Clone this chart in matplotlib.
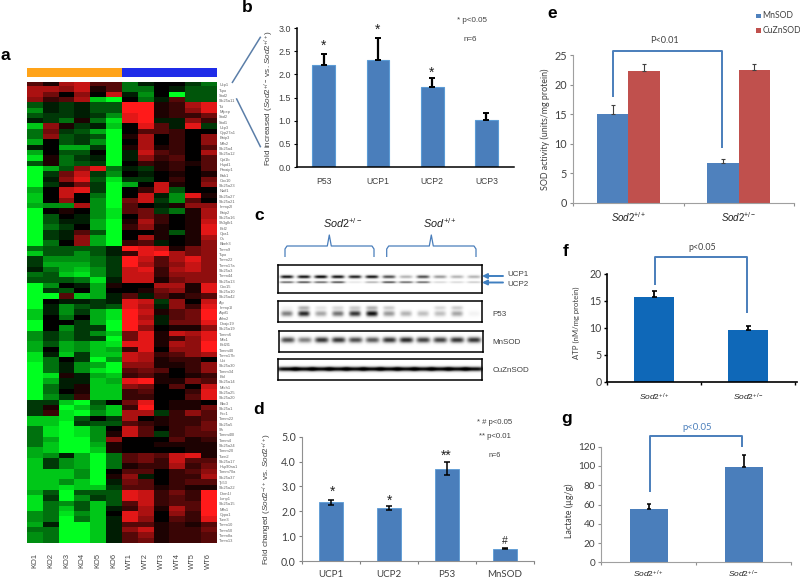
import numpy as np
import matplotlib
matplotlib.use("Agg")
import matplotlib.pyplot as plt
from matplotlib.colors import LinearSegmentedColormap
from matplotlib.patches import Rectangle

plt.rcParams['font.family'] = ['Liberation Sans', 'DejaVu Sans']
plt.rcParams['mathtext.fontset'] = 'custom'
plt.rcParams['mathtext.rm'] = 'Liberation Sans'
plt.rcParams['mathtext.it'] = 'Liberation Sans:italic'
plt.rcParams['mathtext.bf'] = 'Liberation Sans:bold'

# ---------- data ----------
heat_columns = ['KO1','KO2','KO3','KO4','KO5','KO6','WT1','WT2','WT3','WT4','WT5','WT6']
gene_labels = ['Ucp1','Tspo','Sod2','Slc25a11','Tst','Mipep','Sod2','Sod1','Ucp3','Cyp27a1','Bnip3','Mfn2',
 'Slc25a4','Slc25a12','Cpt1b','Hspd1','Pmaip1','Bak1','Cox10','Slc25a23','Naif1','Slc25a27','Slc25a21',
 'Immp2l','Bnip2','Slc25a16','Sh3glb1','Bcl2','Opa1','Cs','Bbeh3','Timm9','Tspo','Timm22','Timm17a',
 'Slc25a3','Timm44','Slc25a13','Cox15','Slc25a10','Slc25a42','Aip','Immp1l','Atpif1','Aifm2','Dnajc19',
 'Slc25a19','Tomm6','Mtx1','Bcl2l1','Tomm40','Timm17b','Uxt','Slc25a30','Tomm34','Bid','Slc25a14','Mtch1',
 'Slc25a25','Slc25a20','Bbc3','Slc25a1','Fxc1','Tomm22','Slc25a5','Sh','Tomm40l','Tomm4','Slc25a24',
 'Tomm20','Tsen2','Slc25a17','Hsp90aa1','Tomm70a','Slc25a37','Tp53','Slc25a22','Dnm1l','Lonp1','Slc25a15',
 'Mfn1','Cypa1','Tsen3','Timm10','Timm50','Timm8a','Timm13']
heat_values = [
 [3,1,6,7,3,3,-4,-1,0,0,-2,-4],[6,6,5,7,1,3,-4,-4,0,-1,-3,-3],[6,4,0,5,0,7,-1,-5,0,-9,-3,-3],
 [5,2,3,6,-7,-9,0,-4,-1,3,-3,-3],[-3,-1,-2,-1,-3,-3,9,9,1,2,6,8],[-5,-1,-2,-1,-3,-3,9,9,1,2,5,8],
 [-3,-2,-2,-1,-2,-5,8,9,1,2,2,4],[-1,-2,-4,1,-4,-8,8,9,-1,-1,5,2],[-7,5,1,-2,-1,-7,0,8,3,-1,8,-2],
 [-4,4,-2,-3,-6,-9,0,3,3,2,0,0],[-4,5,-3,-2,-3,-9,1,6,0,2,0,5],[-6,0,-3,-2,-5,-9,0,6,0,2,0,5],
 [-1,0,-6,-6,-2,-9,1,6,1,2,0,3],[-6,0,-3,-3,0,-9,-1,7,3,2,0,6],[-8,1,-4,-2,-1,-9,-1,5,2,3,0,3],
 [-3,1,-4,-3,-2,-9,0,2,1,2,1,3],[-9,-6,-3,5,8,-4,-1,-2,1,2,0,3],[-9,-2,4,7,-2,-5,0,-1,0,1,0,1],
 [-9,-1,5,8,-3,-8,-2,-2,0,2,0,4],[-9,-2,1,4,-2,-9,-6,0,7,1,0,5],[-6,0,7,8,-2,-9,0,2,7,-3,0,0],
 [-7,0,7,0,-4,-9,0,7,-1,-5,8,1],[-7,0,5,0,-5,-9,4,7,-2,-5,3,0],[-6,-5,-5,6,-5,-9,3,0,-1,1,5,5],
 [-9,0,1,0,-5,-8,3,4,-2,-4,1,6],[-9,-3,0,-1,-5,-8,0,4,2,0,1,6],[-9,-3,-1,-1,-6,-9,1,6,2,0,1,7],
 [-9,-4,-2,0,-6,-9,2,5,1,0,1,8],[-9,-2,-1,3,-3,-9,0,0,1,-3,1,8],[-9,-2,-1,5,-6,-9,0,6,1,0,1,6],
 [-9,-4,0,5,-6,-9,2,3,-1,0,1,5],[-4,-3,-3,-3,-3,-1,9,8,7,1,4,5],[-7,-3,-3,-5,-3,-1,2,8,9,6,4,5],
 [-2,-5,-5,-5,-4,-2,9,7,3,6,8,5],[-2,-6,-6,-6,-4,-2,9,6,3,5,7,5],[-1,-4,-6,-7,-5,-2,7,8,2,6,7,5],
 [-4,-3,-7,-8,-5,-2,7,7,2,5,5,5],[-3,-3,-3,-4,-8,-1,7,7,1,4,5,5],[-9,-5,0,-1,-6,1,0,0,6,6,1,8],
 [-9,-2,-3,0,-6,0,0,1,4,5,1,8],[-9,-9,3,-7,-6,-1,3,-1,3,1,2,3],[-9,0,-1,-1,-2,-1,8,7,-2,5,0,7],
 [-9,-1,-5,-3,-2,-3,8,6,-1,5,2,8],[-7,-1,-5,-2,-6,-8,9,7,1,3,4,9],[-7,0,-4,0,-6,-8,9,6,-1,3,4,9],
 [-9,0,0,-2,-6,-9,9,7,-1,4,4,8],[-9,0,-5,-2,-2,-9,9,5,0,1,1,5],[-5,-2,-4,-2,-5,-7,4,8,1,7,6,8],
 [-5,-2,-4,-2,-2,-9,4,8,1,2,5,8],[-6,-3,-6,-5,-7,-8,8,8,1,6,5,9],[-6,0,-6,-5,-7,-6,2,8,0,5,5,9],
 [-8,-1,-7,-2,-7,-7,7,6,2,3,5,6],[-8,-4,0,-2,-9,-5,7,6,1,2,2,0],[-9,-4,-1,-5,-6,-9,5,5,1,1,2,5],
 [-9,-4,-1,-5,-8,-9,3,4,3,0,2,5],[-9,-8,1,-1,-6,-7,2,3,1,0,1,2],[-9,-6,-1,-1,-7,-6,8,9,1,1,4,3],
 [-9,-4,-1,1,-7,-7,5,4,0,3,0,7],[-9,-4,0,1,-7,-7,2,3,0,0,2,8],[-9,-5,-2,2,-7,-7,2,2,0,0,3,8],
 [-2,-2,-7,-9,-3,0,4,8,0,1,1,0],[-2,1,-9,-7,-4,-7,2,9,0,1,1,4],[-2,2,-8,-9,-5,-7,6,6,-2,2,5,3],
 [-7,-7,-8,-3,0,-2,6,0,1,2,2,3],[-7,-7,-9,-2,-3,-3,3,2,1,2,2,4],[-4,-8,-9,-8,-5,0,7,3,0,2,3,4],
 [-4,-8,-9,-8,-5,1,7,3,-2,2,3,3],[-4,-6,-9,-9,-5,5,0,0,0,3,1,2],[-4,-7,-9,-9,-6,1,0,0,1,1,1,1],
 [-6,-7,-9,-9,-7,1,0,0,0,0,1,1],[-6,-5,-1,-6,-9,-4,3,4,3,7,8,1],[-7,-2,-5,-6,-9,-4,3,4,2,7,3,3],
 [-7,-2,-5,-6,-9,-4,1,2,2,6,2,4],[-7,-7,-7,-5,-9,0,3,3,0,2,3,5],[-7,-7,-7,-5,-9,1,5,-1,0,2,2,6],
 [-7,-7,-5,-7,-9,-1,4,3,0,2,3,3],[-7,-7,-8,-7,-7,-2,3,3,1,2,1,1],[-6,-3,-9,-3,-3,-3,8,7,2,4,2,9],
 [-8,-2,-9,-5,-2,-3,8,7,2,3,2,9],[-8,-4,-5,-3,-7,-3,3,7,2,3,3,9],[-8,-4,-7,-3,-7,-1,2,6,1,6,3,9],
 [-5,-4,-8,-5,-7,0,8,6,0,5,2,9],[-5,-4,-9,-4,-7,-1,8,5,0,3,2,8],[-6,-1,-9,-9,-7,-1,3,3,1,2,1,3],
 [-4,-4,-9,-9,-7,-1,5,7,1,2,2,4],[-5,-4,-9,-9,-7,-1,3,5,1,2,2,3],[-5,-4,-9,-9,-7,-1,3,4,1,2,2,3],
]

b_labels = ['P53','UCP1','UCP2','UCP3']
b_values = [2.2,2.31,1.73,1.02]
b_err = [0.24,0.47,0.2,0.14]

d_labels = ['UCP1','UCP2','P53','MnSOD']
d_values = [2.37,2.13,3.72,0.5]
d_err = [0.1,0.08,0.28,0.02]

e_groups = [r'$\mathit{Sod2}^{+/+}$', r'$\mathit{Sod2}^{+/-}$']
e_mn = [15.0,6.8]
e_mn_err = [1.6,0.6]
e_cu = [22.3,22.5]
e_cu_err = [1.1,1.0]

f_values = [15.7,9.6]
f_err = [1.1,0.8]
g_values = [55,99]
g_err = [5.5,12]

blot_ucp1 = [.95,.95,1,.95,.9,.95,.7,.3,.7,.4,.3,.3]
blot_ucp2 = [.6,.7,.6,.7,.1,.3,.7,.6,.6,.15,.15,.2]
blot_p53 = [.5,.85,.35,.55,.8,.95,.4,.3,.25,.25,.35,.05]
blot_p53_upper = [.05,.3,.1,.15,.2,.3,.2,0,0,.15,.2,0]
blot_mnsod = [.7,.5,.8,.8,.7,.65,.8,.85,.75,.75,.8,.8]
blot_cuznsod = [1,1,1,1,1,1,1,1,1,1,1,1]

# ---------- layout helpers ----------
W, H = 800, 579
fig = plt.figure(figsize=(8, 5.79), dpi=100, facecolor='white')

def axpx(l, t, r, b):
    return fig.add_axes([l/W, 1-b/H, (r-l)/W, (b-t)/H])

TXT = '#404040'
BAR = '#4a7ebb'
LINE = '#4a7ebb'

# ---------- a: heatmap ----------
cmap = LinearSegmentedColormap.from_list('gbr', ['#00ff20', '#000000', '#ff1a1a'])
ax = axpx(27, 82.3, 216.5, 543.5)
ax.imshow(np.array(heat_values), cmap=cmap, vmin=-9, vmax=9, aspect='auto', interpolation='nearest')
ax.set_xticks(range(12))
ax.set_xticklabels(heat_columns, rotation=90, fontsize=5.4, color='#444444', family=['Liberation Sans'])
ax.set_yticks(range(len(gene_labels)))
ax.set_yticklabels(gene_labels, fontsize=2.9, color='#666666')
ax.yaxis.tick_right()
ax.tick_params(length=0, pad=2)
ax.tick_params(axis='x', pad=7)
for s in ax.spines.values():
    s.set_visible(False)

ax = axpx(27, 67.7, 216.5, 77)
ax.imshow(np.array([[0]*6+[1]*6]), cmap=LinearSegmentedColormap.from_list('oc', ['#ffa319', '#1f2ce8']),
          aspect='auto', interpolation='nearest')
ax.axis('off')

# ---------- b ----------
ax = axpx(296.7, 28, 513.5, 167)
x = np.arange(4)
ax.bar(x, b_values, width=0.42, color=BAR, edgecolor='#5b9bd5', linewidth=0.8)
ax.errorbar(x, b_values, yerr=[[0]*4, b_err], fmt='none', ecolor='black', elinewidth=1.6, capsize=2.2, capthick=1.4)
ax.set_xlim(-0.5, 3.5)
ax.set_ylim(0, 3)
ax.set_xticks(x)
ax.set_xticklabels(b_labels, fontsize=6.2, color=TXT)
ax.set_yticks(np.arange(0, 3.01, 0.5))
ax.set_yticklabels([f'{v:.1f}' for v in np.arange(0, 3.01, 0.5)], fontsize=6.4, color=TXT)
ax.tick_params(axis='x', length=0, pad=7)
ax.tick_params(axis='y', length=2, width=0.8, pad=2)
for s in ['top', 'right']:
    ax.spines[s].set_visible(False)
for s in ['left', 'bottom']:
    ax.spines[s].set_linewidth(1.1)
ax.set_ylabel(r'Fold increased ($\mathit{Sod2}^{+/-}$ vs. $\mathit{Sod2}^{+/+}$)', fontsize=5.9, color=TXT, labelpad=2)

# ---------- c: western blots ----------
def blot(box, bands):
    l, t, r, b = box
    a = axpx(l, t, r, b)
    nx, ny = 240, 50
    xs = np.linspace(0, 12, nx)
    ys = np.linspace(0, 1, ny)
    X, Y = np.meshgrid(xs, ys)
    img = np.ones_like(X)
    for vals, yc, sy, sx in bands:
        for i, v in enumerate(vals):
            g = np.exp(-((X-(i+0.5))/sx)**4) * np.exp(-((Y-yc)/sy)**2)
            img = img - v*g
    a.imshow(np.clip(img, 0, 1), cmap='gray', vmin=0, vmax=1, aspect='auto', extent=(0, 12, 1, 0), interpolation='bilinear')
    a.set_xticks([]); a.set_yticks([])
    for s in a.spines.values():
        s.set_linewidth(1.1)
    return a

blot((278.3, 264.7, 482.3, 293.3), [(blot_ucp1, .44, .055, .38), (blot_ucp2, .63, .035, .42)])
blot((278.3, 300.7, 482.3, 322.3), [(blot_p53, .62, .13, .34), (blot_p53_upper, .35, .09, .34)])
blot((279.3, 330.7, 483, 352.3), [(blot_mnsod, .45, .13, .4)])
blot((278.3, 358.7, 482.3, 380), [(blot_cuznsod, .5, .1, .62)])

# ---------- d ----------
ax = axpx(302, 436.7, 534, 561)
x = np.arange(4)
ax.bar(x, d_values, width=0.4, color=BAR, edgecolor='#5b9bd5', linewidth=0.6)
ax.errorbar(x, d_values, yerr=d_err, fmt='none', ecolor='black', elinewidth=1.1, capsize=2.2, capthick=1.1)
ax.set_xlim(-0.5, 3.5)
ax.set_ylim(0, 5)
ax.set_xticks(np.arange(-0.5, 3.6, 1))
ax.set_xticklabels([])
for xi, lab in zip(x, d_labels):
    ax.annotate(lab, (xi, 0), xytext=(0, -10), textcoords='offset points', ha='center', va='center',
                fontsize=7, color=TXT, family=['Lato'], annotation_clip=False)
ax.set_yticks(range(6))
ax.set_yticklabels([f'{v:.1f}' for v in range(6)], fontsize=7.6, color=TXT, family=['Lato'])
ax.tick_params(axis='x', length=2.5, width=0.8, color='#808080', direction='out')
ax.tick_params(axis='y', length=2.5, width=0.8, color='#808080', pad=2)
for s in ['top', 'right']:
    ax.spines[s].set_visible(False)
for s in ['left', 'bottom']:
    ax.spines[s].set_color('#909090')
ax.set_ylabel(r'Fold changed ($\mathit{Sod2}^{-/+}$ vs. $\mathit{Sod2}^{+/+}$)', fontsize=5.9, color=TXT, labelpad=5)

# ---------- e ----------
ax = axpx(573.3, 55, 794, 202.7)
x = np.arange(2)
w = 0.284
ax.bar(x-w/2, e_mn, width=w, color='#4f81bd')
ax.bar(x+w/2, e_cu, width=w, color='#c0504d')
ax.errorbar(x-w/2, e_mn, yerr=[[0, 0], e_mn_err], fmt='none', ecolor='#404040', elinewidth=0.8, capsize=1.5, capthick=0.8)
ax.errorbar(x+w/2, e_cu, yerr=[[0, 0], e_cu_err], fmt='none', ecolor='#404040', elinewidth=0.8, capsize=1.5, capthick=0.8)
ax.set_xlim(-0.5, 1.5)
ax.set_ylim(0, 25)
ax.set_xticks([-0.5, 0.5, 1.5])
ax.set_xticklabels([])
for xi, lab in zip(x, e_groups):
    ax.annotate(lab, (xi, 0), xytext=(0, -10.5), textcoords='offset points', ha='center', va='center',
                fontsize=7, color='#222222', annotation_clip=False)
ax.set_yticks(range(0, 26, 5))
ax.set_yticklabels(range(0, 26, 5), fontsize=7.8, color=TXT, family=['Lato'])
ax.tick_params(length=2.5, width=0.8, color='#909090', pad=2)
for s in ['top', 'right']:
    ax.spines[s].set_visible(False)
for s in ['left', 'bottom']:
    ax.spines[s].set_color('#a0a0a0')
ax.set_ylabel('SOD activity (units/mg protein)', fontsize=6.4, color=TXT, labelpad=3, family=['Lato'])

# ---------- f ----------
ax = axpx(607.3, 274, 796.7, 381.7)
ax.bar(x, f_values, width=0.42, color='#0f68b8')
ax.errorbar(x, f_values, yerr=[[0, 0], f_err], fmt='none', ecolor='black', elinewidth=1.3, capsize=1.8, capthick=1.2)
ax.set_xlim(-0.5, 1.52)
ax.set_ylim(0, 20)
ax.set_xticks([-0.5, 0.5, 1.5])
ax.set_xticklabels([])
for xi, lab in zip(x, e_groups):
    ax.annotate(lab, (xi, 0), xytext=(0, -11.5), textcoords='offset points', ha='center', va='center',
                fontsize=6, color='#222222', annotation_clip=False)
ax.set_yticks(range(0, 21, 5))
ax.set_yticklabels(range(0, 21, 5), fontsize=7.6, color=TXT, family=['Lato'])
ax.tick_params(length=2, width=1, color='black', pad=2)
for s in ['top', 'right']:
    ax.spines[s].set_visible(False)
for s in ['left', 'bottom']:
    ax.spines[s].set_linewidth(1.2)
ax.set_ylabel('ATP (nM/mg protein)', fontsize=5.6, color=TXT, labelpad=7, family=['Lato'], y=0.55)

# ---------- g ----------
ax = axpx(601, 446.7, 791, 562.3)
ax.bar(x, g_values, width=0.4, color=BAR)
ax.errorbar(x, g_values, yerr=[[0, 0], g_err], fmt='none', ecolor='black', elinewidth=1.2, capsize=1.5, capthick=1.1)
ax.set_xlim(-0.5, 1.5)
ax.set_ylim(0, 120)
ax.set_xticks([-0.5, 0.5, 1.5])
ax.set_xticklabels([])
for xi, lab in zip(x, e_groups):
    ax.annotate(lab, (xi, 0), xytext=(0, -8.5), textcoords='offset points', ha='center', va='center',
                fontsize=6, color='#222222', annotation_clip=False)
ax.set_yticks(range(0, 121, 20))
ax.set_yticklabels(range(0, 121, 20), fontsize=7.2, color=TXT, family=['Lato'])
ax.tick_params(length=2, width=0.8, color='#909090', pad=2)
for s in ['top', 'right']:
    ax.spines[s].set_visible(False)
for s in ['left', 'bottom']:
    ax.spines[s].set_color('#a0a0a0')
ax.set_ylabel('Lactate (µg/g)', fontsize=6.4, color=TXT, labelpad=3, family=['Lato'], y=0.45)

# ---------- overlay: annotations in pixel space ----------
ov = fig.add_axes([0, 0, 1, 1], facecolor='none')
ov.set_xlim(0, W); ov.set_ylim(H, 0); ov.axis('off')

def T(px, py, s, fs=6.5, color=TXT, ha='center', **k):
    ov.text(px, py, s, fontsize=fs, color=color, ha=ha, va='center', **k)

def P(xs, ys, color=LINE, lw=1.4):
    ov.plot(xs, ys, color=color, lw=lw, solid_capstyle='butt', solid_joinstyle='round')

for s, px, py in [('a', 5, 56), ('b', 247, 7), ('c', 259, 215), ('d', 259, 410), ('e', 552, 13), ('f', 566, 252), ('g', 567, 418)]:
    T(px, py, s, fs=12.5, color='black', fontweight='bold')

# connectors from heatmap to b
P([232, 260.7], [83, 36.7], color='#5b7ea8', lw=1.1)
P([236.3, 260.7], [98.3, 147.3], color='#5b7ea8', lw=1.1)

# b annotations
T(471.7, 20.7, '* p<0.05', fs=5.8)
T(470.7, 39.3, 'n=6', fs=5.8)
for px, py in [(323.3, 45.5), (378, 29.5), (432, 72.5)]:
    T(px, py, '*', fs=10, color='#222222')

# c annotations
T(342.7, 223.3, r'$\mathit{Sod2}^{+/-}$', fs=7.8, color='#222222')
T(440, 223.3, r'$\mathit{Sod}^{+/+}$', fs=7.8, color='#222222')
for l, m, r in [(285, 329.3, 374), (386.7, 431.3, 476)]:
    P([l, l, l+2, m-2, m, m+2, r-2, r, r], [257, 249, 246, 246, 235, 246, 246, 249, 257], lw=0.9)
for py, s in [(274, 'UCP1'), (285, 'UCP2')]:
    T(507.5, py, s, fs=5.8, ha='left')
for py, s in [(314, 'P53'), (343, 'MnSOD'), (370, 'CuZnSOD')]:
    T(492.7, py, s, fs=5.8, ha='left')
for py in [276, 282.5]:
    ov.annotate('', xy=(482, py), xytext=(503, py),
                arrowprops=dict(arrowstyle='-|>', color='#3f7fc0', lw=1.4, mutation_scale=7, shrinkA=0, shrinkB=0))

# d annotations
T(495, 422.3, '* # p<0.05', fs=5.6)
T(495.3, 437, '** p<0.01', fs=5.6)
T(495, 455.3, 'n=6', fs=5.2)
for px, py, s in [(332.7, 491.5, '*'), (390, 500.5, '*'), (446.7, 455.5, '**')]:
    T(px, py, s, fs=10, color='#222222')
T(505.3, 541.5, '#', fs=7.5, color='#222222')

# e annotations
P([612.7, 612.7, 721.7, 721.7], [97, 50.7, 50.7, 148.3])
T(664.3, 40.7, 'P<0.01', fs=6.6, family=['Lato'])
for py, s, c in [(16, 'MnSOD', '#4f81bd'), (30.7, 'CuZnSOD', '#c0504d')]:
    ov.add_patch(Rectangle((756, py-2.3), 4.6, 4.6, color=c, lw=0))
    T(762.5, py, s, fs=6.2, ha='left', family=['Lato'])

# f annotations
P([654.7, 654.7, 747, 747], [285, 256.7, 256.7, 312.7])
T(702, 247.3, 'p<0.05', fs=6.4, family=['Lato'])

# g annotations
P([650, 650, 742.3, 742.3], [491.7, 436, 436, 446.7])
T(697, 427.7, 'p<0.05', fs=6.8, color='#4a7ebb', family=['Lato'])

fig.savefig('out.png', dpi=100, facecolor='white')
